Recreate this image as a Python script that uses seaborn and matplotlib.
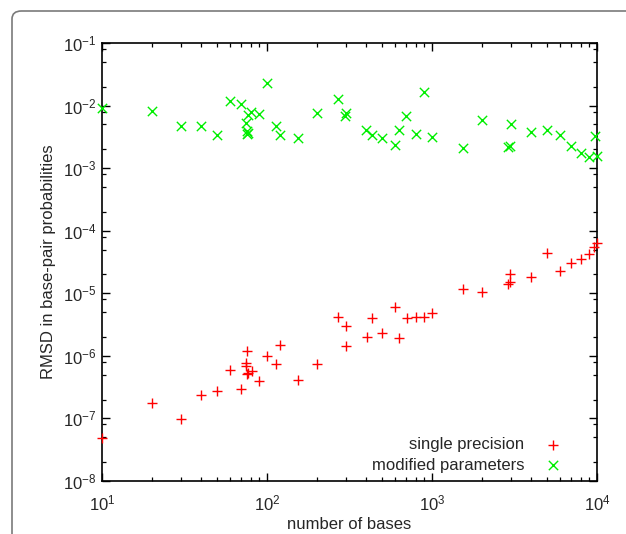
import numpy as np
import pandas as pd
import seaborn as sns
import matplotlib
matplotlib.use("Agg")
import matplotlib.pyplot as plt
from matplotlib.patches import FancyBboxPatch
from matplotlib.ticker import LogLocator, FuncFormatter, NullFormatter

# --- data ---
single_x = [10, 20, 30, 40, 50, 59.7, 70, 74.6, 75, 76, 75.5, 76.5, 80.7, 90, 99.5,
            113.5, 120, 155, 200, 268, 301, 301, 402, 433, 500, 599, 627, 702, 800, 895,
            1000, 1535, 2000, 2970, 2900, 2990, 3980, 4980, 6000, 6980, 8000, 8980, 9530, 9950]
single_y = [4.9e-8, 1.78e-7, 9.9e-8, 2.37e-7, 2.77e-7, 5.87e-7, 2.95e-7, 6.97e-7, 7.6e-7,
            1.21e-6, 5.2e-7, 5.4e-7, 5.73e-7, 3.96e-7, 1.0e-6, 7.4e-7, 1.49e-6, 4.07e-7,
            7.3e-7, 4.13e-6, 3.0e-6, 1.45e-6, 2.03e-6, 4.07e-6, 2.32e-6, 5.97e-6, 1.95e-6,
            4.07e-6, 4.18e-6, 4.18e-6, 4.79e-6, 1.17e-5, 1.03e-5, 2.03e-5, 1.41e-5, 1.5e-5,
            1.84e-5, 4.46e-5, 2.24e-5, 3.01e-5, 3.57e-5, 4.25e-5, 5.5e-5, 6.45e-5]

modified_x = [10, 20, 30, 40, 50, 60, 70, 79.5, 77, 74.6, 76, 75.6, 76.5, 90, 100,
              113.5, 120, 155, 200, 268, 301, 298, 400, 433, 500, 599, 631, 699, 795, 897,
              1000, 1535, 2000, 3000, 2900, 2970, 3980, 4977, 5998, 6986, 8000, 8950, 9950, 9690]
modified_y = [9.2e-3, 8.3e-3, 4.7e-3, 4.7e-3, 3.4e-3, 1.17e-2, 1.06e-2, 7.9e-3, 7.0e-3,
              5.2e-3, 3.9e-3, 3.5e-3, 3.7e-3, 7.2e-3, 2.27e-2, 4.7e-3, 3.35e-3, 3.0e-3,
              7.7e-3, 1.27e-2, 7.5e-3, 6.8e-3, 4.1e-3, 3.4e-3, 3.0e-3, 2.37e-3, 4.1e-3,
              6.8e-3, 3.56e-3, 1.63e-2, 3.1e-3, 2.1e-3, 5.96e-3, 5.0e-3, 2.2e-3, 2.24e-3,
              3.74e-3, 4.1e-3, 3.43e-3, 2.29e-3, 1.77e-3, 1.5e-3, 1.56e-3, 3.3e-3]

series_labels = ["single precision", "modified parameters"]
x_label = "number of bases"
y_label = "RMSD in base-pair probabilities"

sns.set_style("ticks")
plt.rcParams["font.family"] = ["Liberation Sans", "DejaVu Sans"]
plt.rcParams["mathtext.default"] = "regular"
plt.rcParams["font.size"] = 12

fig = plt.figure(figsize=(6.26, 5.34), dpi=100)
fig.patch.set_facecolor("white")

# rounded outer frame (continues past the right and bottom edges)
frame = FancyBboxPatch((12 / 626, -0.2), 1.2, 1.2 - 11 / 534,
                       boxstyle="round,pad=0,rounding_size=0.015",
                       transform=fig.transFigure, fill=False,
                       edgecolor="#7a7a7a", linewidth=1.2)
fig.patches.append(frame)

ax = fig.add_axes([102 / 626, 1 - 481 / 534, 495 / 626, 438 / 534])
ax.set_facecolor("white")

sns.scatterplot(x=single_x, y=single_y, ax=ax, marker="+", color="#ff0000",
                s=55, linewidth=1.0, label=series_labels[0], clip_on=False, zorder=3)
sns.scatterplot(x=modified_x, y=modified_y, ax=ax, marker="x", color="#00ee00",
                s=45, linewidth=1.0, label=series_labels[1], clip_on=False, zorder=3)

ax.set_xscale("log")
ax.set_yscale("log")
ax.set_xlim(10, 1e4)
ax.set_ylim(1e-8, 1e-1)

def fmt(v, pos):
    e = int(round(np.log10(v)))
    return r"$10^{%d}$" % e

ax.xaxis.set_major_locator(LogLocator(base=10, numticks=10))
ax.yaxis.set_major_locator(LogLocator(base=10, numticks=10))
ax.xaxis.set_major_formatter(FuncFormatter(fmt))
ax.yaxis.set_major_formatter(FuncFormatter(fmt))
ax.xaxis.set_minor_locator(LogLocator(base=10, subs=np.arange(2, 10), numticks=20))
ax.yaxis.set_minor_locator(LogLocator(base=10, subs=[2, 5, 8], numticks=20))
ax.xaxis.set_minor_formatter(NullFormatter())
ax.yaxis.set_minor_formatter(NullFormatter())

for sp in ax.spines.values():
    sp.set_visible(True)
    sp.set_linewidth(1.2)
    sp.set_color("black")

ax.tick_params(which="both", direction="in", top=True, right=True, color="black")
ax.tick_params(which="major", length=6, width=1.0, labelsize=12)
ax.tick_params(which="minor", length=3, width=0.9)
ax.tick_params(axis="x", which="major", pad=9)
ax.tick_params(axis="y", which="major", pad=4)

ax.set_xlabel(x_label, fontsize=12)
ax.set_ylabel(y_label, fontsize=12)
ax.xaxis.set_label_coords(0.5, -0.082)
ax.yaxis.set_label_coords(-0.092, 0.5)

leg = ax.legend(loc="lower right", bbox_to_anchor=(0.944, 0.019), frameon=False,
                markerfirst=False, borderaxespad=0, borderpad=0, labelspacing=0.34,
                handlelength=2.0, handletextpad=0.7, fontsize=12)

fig.savefig("out.png", dpi=100, facecolor="white")
